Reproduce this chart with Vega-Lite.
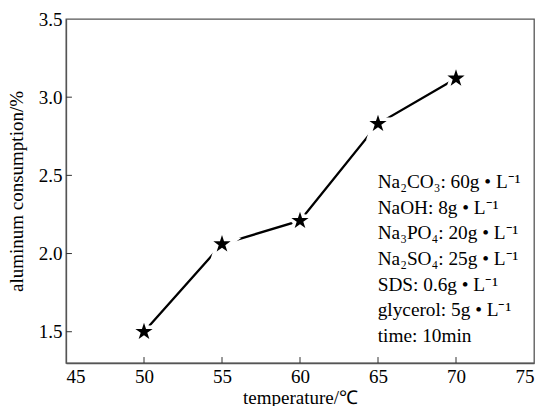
{
  "$schema": "https://vega.github.io/schema/vega-lite/v6.json",
  "width": 468,
  "height": 344,
  "autosize": {"type": "none"},
  "padding": {"left": 66, "top": 19, "right": 9, "bottom": 43},
  "background": "white",
  "config": {
    "view": {"stroke": "#555555", "strokeWidth": 1.3},
    "font": "Liberation Serif",
    "axis": {
      "labelFont": "Liberation Serif",
      "titleFont": "Liberation Serif",
      "labelFontSize": 19,
      "titleFontSize": 19,
      "titleFontWeight": "normal",
      "labelColor": "black",
      "titleColor": "black",
      "domainColor": "#555555",
      "domainWidth": 1.3,
      "ticks": false,
      "tickSize": 0,
      "grid": false
    }
  },
  "datasets": {
    "points": [
      {"temperature": 50, "consumption": 1.50},
      {"temperature": 55, "consumption": 2.06},
      {"temperature": 60, "consumption": 2.21},
      {"temperature": 65, "consumption": 2.83},
      {"temperature": 70, "consumption": 3.12}
    ],
    "xticks": [{"t": 50}, {"t": 55}, {"t": 60}, {"t": 65}, {"t": 70}],
    "yticks": [{"t": 1.5}, {"t": 2.0}, {"t": 2.5}, {"t": 3.0}]
  },
  "layer": [
    {
      "data": {"name": "points"},
      "mark": {"type": "line", "color": "black", "strokeWidth": 2.3},
      "encoding": {
        "x": {
          "field": "temperature",
          "type": "quantitative",
          "scale": {"domain": [45, 75], "nice": false, "zero": false},
          "axis": {"values": [45, 50, 55, 60, 65, 70, 75], "title": "temperature/℃", "labelPadding": 4, "titlePadding": 2}
        },
        "y": {
          "field": "consumption",
          "type": "quantitative",
          "scale": {"domain": [1.3, 3.5], "nice": false, "zero": false},
          "axis": {"values": [1.5, 2.0, 2.5, 3.0, 3.5], "format": ".1f", "title": "aluminum consumption/%", "labelPadding": 4, "titlePadding": 12}
        }
      }
    },
    {
      "data": {"name": "xticks"},
      "mark": {"type": "rule", "color": "#333333", "strokeWidth": 1},
      "encoding": {
        "x": {"field": "t", "type": "quantitative"},
        "y": {"datum": 1.3},
        "y2": {"datum": 1.338}
      }
    },
    {
      "data": {"name": "yticks"},
      "mark": {"type": "rule", "color": "#333333", "strokeWidth": 1},
      "encoding": {
        "y": {"field": "t", "type": "quantitative"},
        "x": {"datum": 45},
        "x2": {"datum": 45.38}
      }
    },
    {
      "data": {"name": "points"},
      "mark": {"type": "point", "shape": "M0,-1L0.2245,-0.309L0.9511,-0.309L0.3633,0.118L0.5878,0.809L0,0.382L-0.5878,0.809L-0.3633,0.118L-0.9511,-0.309L-0.2245,-0.309Z", "filled": true, "fill": "white", "stroke": "white", "strokeWidth": 7, "size": 330, "opacity": 1},
      "encoding": {
        "x": {"field": "temperature", "type": "quantitative"},
        "y": {"field": "consumption", "type": "quantitative"}
      }
    },
    {
      "data": {"name": "points"},
      "mark": {"type": "point", "shape": "M0,-1L0.2245,-0.309L0.9511,-0.309L0.3633,0.118L0.5878,0.809L0,0.382L-0.5878,0.809L-0.3633,0.118L-0.9511,-0.309L-0.2245,-0.309Z", "filled": true, "fill": "black", "size": 330, "opacity": 1},
      "encoding": {
        "x": {"field": "temperature", "type": "quantitative"},
        "y": {"field": "consumption", "type": "quantitative"}
      }
    },
    {
      "data": {"name": "points"},
      "mark": {"type": "text", "align": "left", "baseline": "middle", "fontSize": 19.3, "lineHeight": 25.7, "font": "Liberation Serif", "color": "black"},
      "transform": [{"filter": "datum.temperature === 50"}],
      "encoding": {
        "x": {"datum": 64.98},
        "y": {"datum": 2.458},
        "text": {"value": ["Na₂CO₃: 60g • L⁻¹", "NaOH: 8g • L⁻¹", "Na₃PO₄: 20g • L⁻¹", "Na₂SO₄: 25g • L⁻¹", "SDS: 0.6g • L⁻¹", "glycerol: 5g • L⁻¹", "time: 10min"]}
      }
    }
  ]
}
